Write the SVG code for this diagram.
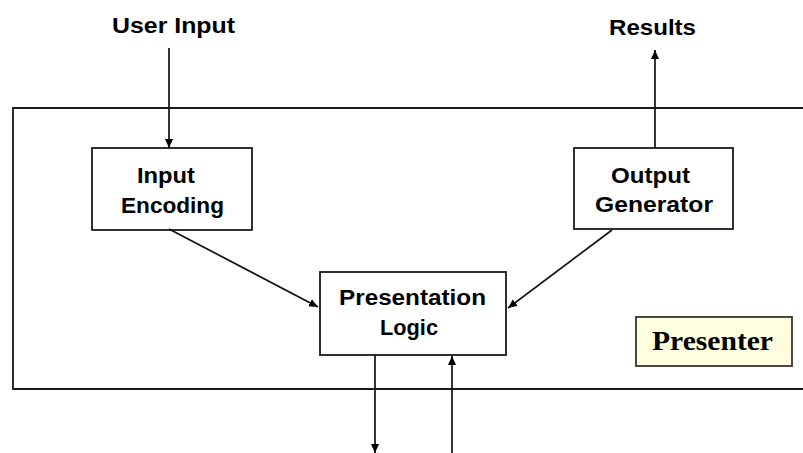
<svg xmlns="http://www.w3.org/2000/svg" width="803" height="453" viewBox="0 0 803 453">
  <style>
    .box { fill: #ffffff; stroke: #1a1a1a; stroke-width: 1.8; }
    .frame { fill: none; stroke: #1a1a1a; stroke-width: 1.8; }
    .lbl { font-family: "Liberation Sans", Arial, sans-serif; font-weight: bold; font-size: 22px; fill: #000; }
    .tag { font-family: "Liberation Serif", "Times New Roman", serif; font-weight: bold; font-size: 27px; fill: #000; }
    .link { fill: none; stroke: #111; stroke-width: 1.7; marker-end: url(#head); }
  </style>
  <defs>
    <marker id="head" markerUnits="userSpaceOnUse" markerWidth="10" markerHeight="9" refX="9" refY="4.5" orient="auto">
      <path d="M0,0.5 L9,4.5 L0,8.5 z" fill="#000"/>
    </marker>
  </defs>
  <rect width="803" height="453" fill="#ffffff"/>

  <!-- Presenter boundary, open on the right -->
  <g id="presenter-frame">
    <path class="frame" d="M803,108 H13 V389 H803"/>
    <rect x="636" y="317" width="156" height="49" fill="#ffffe0" stroke="#333" stroke-width="1.8"/>
    <text class="tag" x="652" y="350" textLength="121" lengthAdjust="spacingAndGlyphs">Presenter</text>
  </g>

  <!-- external labels -->
  <g id="user-input">
    <text class="lbl" x="112" y="33" textLength="123" lengthAdjust="spacingAndGlyphs">User Input</text>
  </g>
  <g id="results">
    <text class="lbl" x="609" y="35" textLength="87" lengthAdjust="spacingAndGlyphs">Results</text>
  </g>

  <!-- nodes -->
  <g id="input-encoding">
    <rect class="box" x="92" y="148" width="160" height="82"/>
    <text class="lbl" x="137" y="183" textLength="58" lengthAdjust="spacingAndGlyphs">Input</text>
    <text class="lbl" x="121" y="213" textLength="103" lengthAdjust="spacingAndGlyphs">Encoding</text>
  </g>
  <g id="output-generator">
    <rect class="box" x="574" y="148" width="159" height="81"/>
    <text class="lbl" x="611" y="183" textLength="79" lengthAdjust="spacingAndGlyphs">Output</text>
    <text class="lbl" x="595" y="212" textLength="118" lengthAdjust="spacingAndGlyphs">Generator</text>
  </g>
  <g id="presentation-logic">
    <rect class="box" x="320" y="272" width="186" height="83"/>
    <text class="lbl" x="339" y="305" textLength="147" lengthAdjust="spacingAndGlyphs">Presentation</text>
    <text class="lbl" x="380" y="335" textLength="58" lengthAdjust="spacingAndGlyphs">Logic</text>
  </g>

  <!-- connectors -->
  <g id="connectors">
    <line class="link" x1="169" y1="48" x2="169" y2="148"/>
    <line class="link" x1="655" y1="148" x2="655" y2="50"/>
    <line class="link" x1="169" y1="229" x2="318" y2="307"/>
    <line class="link" x1="612" y1="230" x2="508" y2="308"/>
    <line class="link" x1="375" y1="355" x2="375" y2="453"/>
    <line class="link" x1="452" y1="453" x2="452" y2="356"/>
  </g>
</svg>
